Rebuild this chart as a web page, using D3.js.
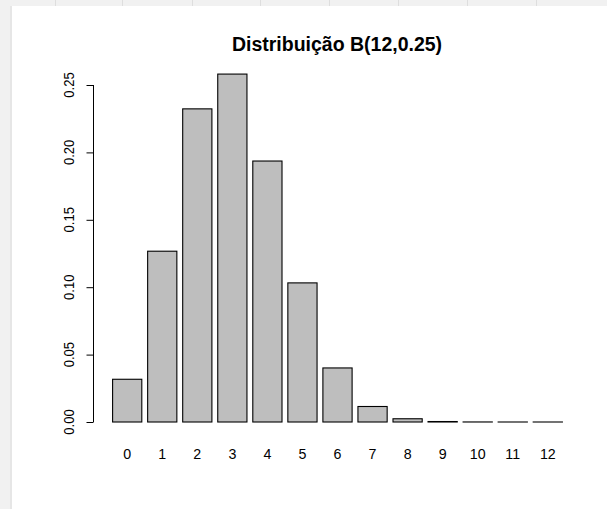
<!DOCTYPE html>
<html><head><meta charset="utf-8">
<script src="https://cdn.jsdelivr.net/npm/d3@7"></script>
<style>body{margin:0;background:#fff}svg{display:block}text{font-family:"Liberation Sans",Arial,sans-serif;fill:#000}</style>
</head><body>
<script>
const title = "Distribuição B(12,0.25)";
const categories = ["0","1","2","3","4","5","6","7","8","9","10","11","12"];
const probs = [0.0317, 0.1267, 0.2323, 0.2581, 0.1936, 0.1032, 0.0401, 0.0115, 0.0024, 0.00035, 0.000035, 0.000002, 0.00000006];
const yTicks = [0, 0.05, 0.10, 0.15, 0.20, 0.25];

const W = 607, H = 509;
const svg = d3.select("body").append("svg").attr("width", W).attr("height", H);

// surrounding window frame
svg.append("rect").attr("x",0).attr("y",0).attr("width",12).attr("height",H).attr("fill","#f1f1f1");
svg.append("rect").attr("x",0).attr("y",0).attr("width",W).attr("height",6).attr("fill","#f1f1f1");
svg.append("rect").attr("x",10).attr("y",6).attr("width",2).attr("height",H).attr("fill","#e6e6e6");
[55,122,192,260,329,398,467,536].forEach(x=>svg.append("rect").attr("x",x).attr("y",0).attr("width",1).attr("height",6).attr("fill","#dedede"));

const x = d3.scaleLinear().domain([0, 12]).range([127.2, 547.8]);
const step = x(1) - x(0);
const bw = step / 1.2;
const y = d3.scaleLinear().domain([0, 0.25]).range([422, 85]);

svg.append("g").selectAll("rect").data(probs).join("rect")
  .attr("x", (d,i) => x(i) - bw/2)
  .attr("y", d => y(d))
  .attr("width", bw)
  .attr("height", d => y(0) - y(d))
  .attr("fill", "#bebebe")
  .attr("stroke", "#000")
  .attr("stroke-width", 1.1);

svg.append("g").selectAll("text").data(categories).join("text")
  .attr("transform", (d,i) => `translate(${x(i)},458.5) scale(0.95,1)`)
  .attr("text-anchor", "middle")
  .attr("font-size", 15)
  .text(d => d);

const yAxis = d3.axisLeft(y).tickValues(yTicks).tickFormat(d3.format(".2f")).tickSize(7).tickPadding(0);
const ga = svg.append("g").attr("transform", "translate(93.5,0)").call(yAxis);
ga.select(".domain").attr("stroke", "#000").attr("d", `M0,${y(0)}V${y(0.25)}`);
ga.selectAll(".tick line").attr("stroke", "#000");
ga.selectAll(".tick text").remove();
svg.append("g").selectAll("text").data(yTicks).join("text")
  .attr("transform", d => `translate(73.5,${y(d)}) rotate(-90) scale(0.9,1)`)
  .attr("text-anchor", "middle")
  .attr("font-size", 14.5)
  .text(d => d3.format(".2f")(d));

svg.append("text").attr("x", 337).attr("y", 51)
  .attr("text-anchor", "middle").attr("font-size", 19.5).attr("font-weight", "bold")
  .text(title);
</script>
</body></html>
